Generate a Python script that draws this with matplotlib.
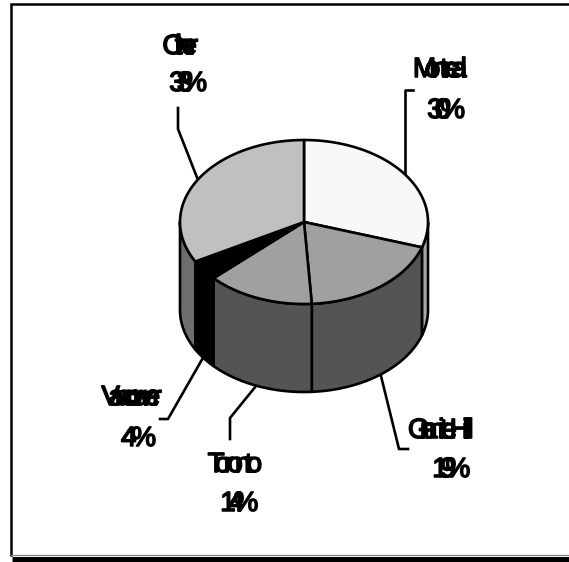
import numpy as np
import matplotlib
matplotlib.use('Agg')
import matplotlib.pyplot as plt
from matplotlib.patches import Polygon
from matplotlib.path import Path
from matplotlib.patheffects import AbstractPathEffect
from matplotlib.transforms import IdentityTransform

plt.rcParams['font.family'] = ['Liberation Sans', 'DejaVu Sans']

cities = ['Montreal', 'Granite Hill', 'Toronto', 'Vancouver', 'Other']
shares = [30, 19, 14, 4, 33]
top_colors = ['#f8f8f8', '#a0a0a0', '#a0a0a0', '#000000', '#c0c0c0']
side_colors = ['#a8a8a8', '#545454', '#545454', '#000000', '#6e6e6e']

# pie geometry in pixels
CX, CY = 304, 222
RX, RY = 124, 82
DEPTH = 88
LW = 1.9
FONT = 20

# label centres: name x, name y, pct x, pct y, squeeze for name, squeeze for pct
label_pos = {
    'Montreal': (442, 70, 445, 111, 0.42, 0.50),
    'Granite Hill': (443, 431, 450, 470, 0.42, 0.50),
    'Toronto': (235, 465, 238, 504, 0.50, 0.50),
    'Vancouver': (133, 398, 138, 439, 0.40, 0.75),
    'Other': (182, 47, 187, 84, 0.38, 0.50),
}
leaders = {
    'Montreal': [(413, 90), (405, 90), (405, 175)],
    'Granite Hill': [(408, 449), (399, 449), (381, 376)],
    'Toronto': [(230, 439), (230, 418), (256, 386)],
    'Vancouver': [(160, 419), (168, 419), (204, 356)],
    'Other': [(178, 108), (178, 129), (198, 180)],
}


class Squeeze(AbstractPathEffect):
    # pulls the glyph outlines together so the letters run into each other
    def __init__(self, s, tail=0):
        super().__init__()
        self.s = s
        self.tail = tail  # outlines at the end that move as one (the % sign)

    def draw_path(self, renderer, gc, tpath, affine, rgbFace=None):
        polys = [p for p in affine.transform_path(tpath).to_polygons() if len(p) > 2]
        xs = np.concatenate([p[:, 0] for p in polys])
        mid = (xs.min() + xs.max()) / 2
        n = len(polys) - self.tail
        groups = [[p] for p in polys[:n]]
        if self.tail:
            groups.append(polys[n:])
        moved = []
        for g in groups:
            gx = np.concatenate([p[:, 0] for p in g])
            c = (gx.min() + gx.max()) / 2
            for p in g:
                q = p.copy()
                q[:, 0] += (mid + self.s * (c - mid)) - c
                moved.append(Path(q, closed=True))
        gc0 = renderer.new_gc()
        gc0.copy_properties(gc)
        gc0.set_linewidth(1.1)
        gc0.set_foreground('black')
        renderer.draw_path(gc0, Path.make_compound_path(*moved), IdentityTransform(), rgbFace)
        gc0.restore()


def rim(a0, a1, n=60):
    # angles clockwise from twelve o'clock, in degrees
    t = np.radians(np.linspace(a0, a1, n))
    return np.column_stack([CX + RX * np.sin(t), CY - RY * np.cos(t)])


fig = plt.figure(figsize=(5.69, 5.62), dpi=100)
ax = fig.add_axes([0, 0, 1, 1])
ax.set_xlim(0, 569)
ax.set_ylim(562, 0)
ax.axis('off')

# chart frame
ax.plot([569, 11, 11], [4, 4, 555], color='black', lw=1.8, solid_joinstyle='miter', zorder=1)
ax.plot([11, 569], [555, 555], color='#808080', lw=0.9, zorder=1)
ax.plot([12, 569], [559.5, 559.5], color='black', lw=5, solid_capstyle='butt', zorder=1)

edges = np.concatenate([[0], np.cumsum(shares)]) * 3.6

for name, pts in leaders.items():
    ax.plot([p[0] for p in pts], [p[1] for p in pts], color='black', lw=LW, zorder=2)

# side wall, only the part facing the viewer
for i in range(len(cities)):
    a0, a1 = max(edges[i], 90), min(edges[i + 1], 270)
    if a0 >= a1:
        continue
    front = rim(a0, a1)
    wall = np.vstack([front, (front + [0, DEPTH])[::-1]])
    ax.add_patch(Polygon(wall, closed=True, facecolor=side_colors[i], edgecolor='black',
                         lw=LW, joinstyle='round', zorder=3))

# top face
for i in range(len(cities)):
    arc = rim(edges[i], edges[i + 1])
    ax.add_patch(Polygon(np.vstack([[CX, CY], arc]), closed=True, facecolor=top_colors[i],
                         edgecolor='black', lw=LW, joinstyle='round', zorder=4))

for name, share in zip(cities, shares):
    nx, ny, px, py, s1, s2 = label_pos[name]
    ax.text(nx, ny, name, fontsize=FONT, ha='center', va='center',
            path_effects=[Squeeze(s1)], zorder=5)
    ax.text(px, py, f'{share}%', fontsize=FONT, ha='center', va='center',
            path_effects=[Squeeze(s2, tail=5)], zorder=5)

plt.savefig('out.png', dpi=100)
plt.close()
